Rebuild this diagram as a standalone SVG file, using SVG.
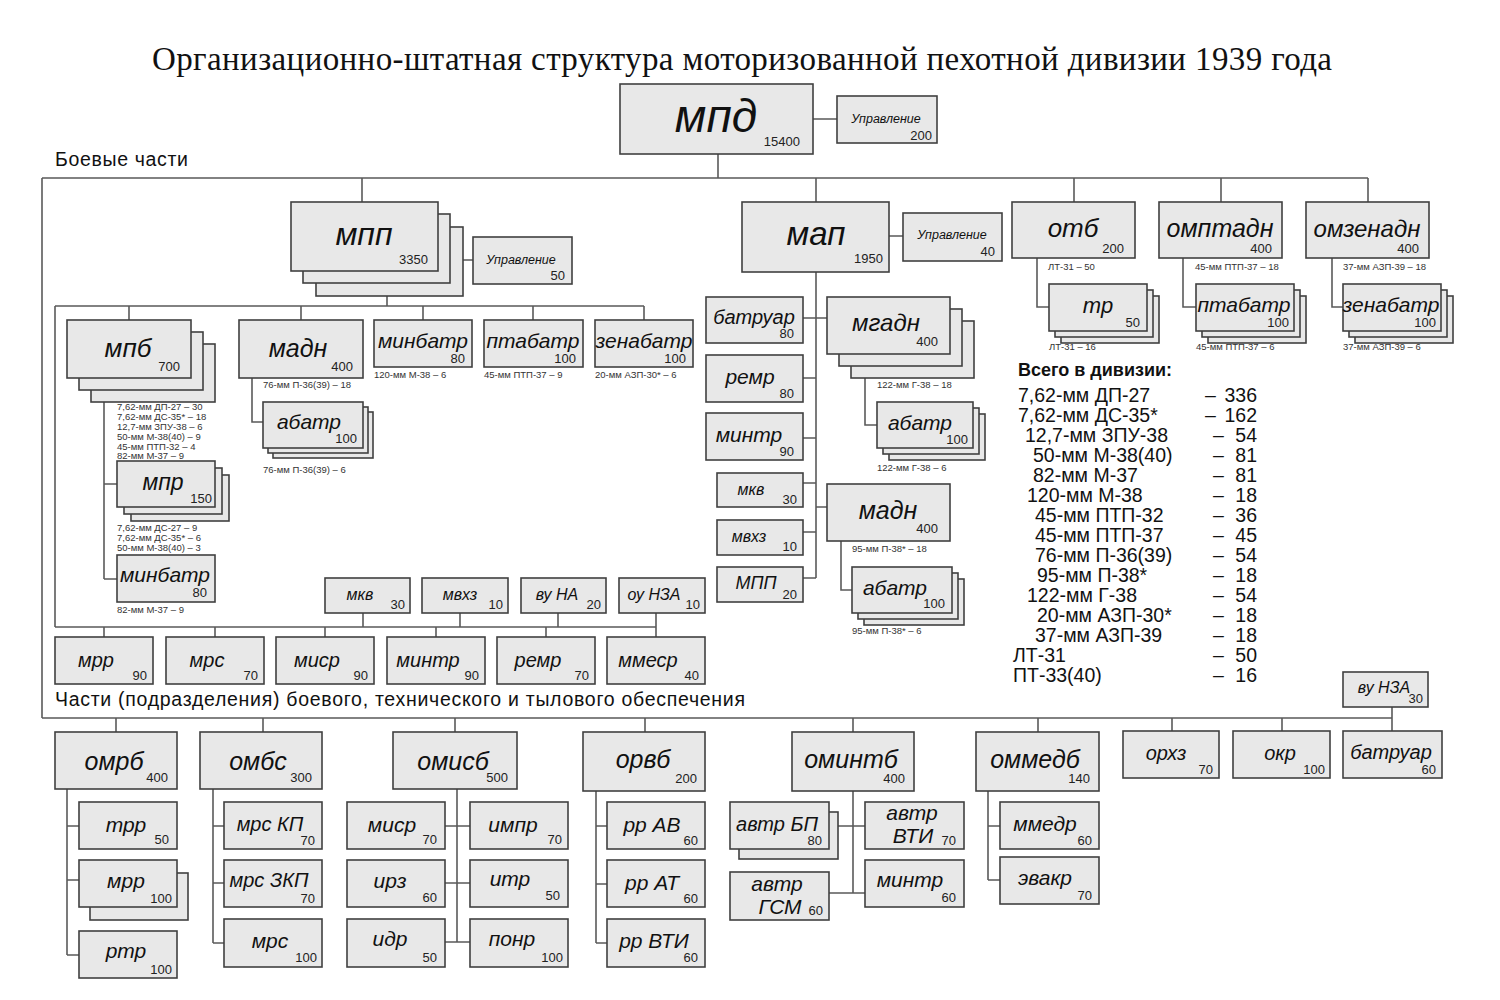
<svg xmlns="http://www.w3.org/2000/svg" width="1500" height="1000" viewBox="0 0 1500 1000">
<style>
.b{fill:#e8e8e8;stroke:#404040;stroke-width:1.6}
.c path{fill:none;stroke:#5a5a5a;stroke-width:1.6}
.l{font-family:"Liberation Sans",Arial,sans-serif;font-style:italic;fill:#111;text-anchor:middle}
.n{font-family:"Liberation Sans",Arial,sans-serif;font-size:13px;fill:#222;text-anchor:end}
.w{font-family:"Liberation Sans",Arial,sans-serif;font-size:9.5px;fill:#333}
.t{font-family:"Liberation Sans",Arial,sans-serif;font-size:19.5px;fill:#111}
.h{font-family:"Liberation Sans",Arial,sans-serif;font-size:19.5px;fill:#111}
</style>
<rect x="0" y="0" width="1500" height="1000" fill="#ffffff"/>
<text x="742" y="70" font-family="'Liberation Serif',serif" font-size="33" text-anchor="middle" textLength="1180" fill="#111">Организационно-штатная структура моторизованной пехотной дивизии 1939 года</text>
<text class="h" x="55" y="166" textLength="133">Боевые части</text>
<text class="h" x="55" y="706" textLength="690">Части (подразделения) боевого, технического и тылового обеспечения</text>

<g class="c" id="connectors">
<path d="M718,154V178M42,178H1368M42,178V718M42,718H1392M362,178V202M816,178V202M1074,178V202M1221,178V202M1368,178V202M813,119H837"/>
<path d="M463,260H473M387,296V306M55,306H644M55,306V627M55,627H656M129,306V320M301,306V320M423,306V320M533,306V320M644,306V320"/>
<path d="M104,402V579M104,484H117M104,579H117M252,378V422H263"/>
<path d="M363,613V627M460,613V627M558,613V627M656,613V637M104,627V637M215,627V637M325,627V637M436,627V637M546,627V637"/>
<path d="M816,272V578M889,236H903M803,318H827M803,378H816M803,438H816M803,483H816M816,507H827M803,532H816M803,578H816M865,377V425H877M841,541V590H852"/>
<path d="M1037,258V307H1049M1183,258V307H1196M1332,258V307H1343"/>
<path d="M116,718V732M263,718V732M455,718V732M645,718V732M853,718V732M1038,718V732M1172,718V731M1282,718V731M1392,707V731"/>
<path d="M67,789V955M67,826H79M67,880H79M67,955H79M213,789V943M213,826H224M213,883H224M213,943H224"/>
<path d="M457,789V942M445,826H470M445,883H470M445,942H470M596,791V943M596,826H607M596,884H607M596,943H607"/>
<path d="M853,791V893M829,826H865M829,893H865M988,791V880M988,826H1000M988,880H1000"/>
</g>

<g id="n-mpd"><rect class="b" x="620" y="84" width="193" height="70"/><text class="l" x="716" y="132" font-size="46">мпд</text><text class="n" x="800" y="146">15400</text></g>
<g id="n-upr-div"><rect class="b" x="837" y="96" width="100" height="47"/><text class="l" x="886" y="123" font-size="12.5">Управление</text><text class="n" x="932" y="140">200</text></g>

<g id="n-mpp"><rect class="b" x="316" y="227" width="147" height="69"/><rect class="b" x="303" y="214" width="147" height="69"/><rect class="b" x="291" y="202" width="147" height="69"/><text class="l" x="364" y="245" font-size="32">мпп</text><text class="n" x="428" y="264">3350</text></g>
<g id="n-upr-mpp"><rect class="b" x="473" y="237" width="99" height="47"/><text class="l" x="521" y="264" font-size="12.5">Управление</text><text class="n" x="565" y="280">50</text></g>

<g id="n-mpb"><rect class="b" x="91" y="344" width="124" height="58"/><rect class="b" x="79" y="332" width="124" height="58"/><rect class="b" x="67" y="320" width="124" height="58"/><text class="l" x="128" y="357" font-size="26">мпб</text><text class="n" x="180" y="371">700</text>
<text class="w" x="117" y="409.5">7,62-мм ДП-27 – 30</text><text class="w" x="117" y="419.5">7,62-мм ДС-35* – 18</text><text class="w" x="117" y="429.5">12,7-мм ЗПУ-38 – 6</text><text class="w" x="117" y="439.5">50-мм М-38(40) – 9</text><text class="w" x="117" y="449.5">45-мм ПТП-32 – 4</text><text class="w" x="117" y="459">82-мм М-37 – 9</text></g>
<g id="n-mpr"><rect class="b" x="131" y="475" width="98" height="46"/><rect class="b" x="124" y="468" width="98" height="46"/><rect class="b" x="117" y="461" width="98" height="46"/><text class="l" x="163" y="490" font-size="23">мпр</text><text class="n" x="212" y="503">150</text>
<text class="w" x="117" y="530.5">7,62-мм ДС-27 – 9</text><text class="w" x="117" y="540.5">7,62-мм ДС-35* – 6</text><text class="w" x="117" y="550.5">50-мм М-38(40) – 3</text></g>
<g id="n-minbatr-mpb"><rect class="b" x="117" y="555" width="98" height="47"/><text class="l" x="165" y="582" font-size="21">минбатр</text><text class="n" x="207" y="597">80</text><text class="w" x="117" y="613">82-мм М-37 – 9</text></g>

<g id="n-madn-mpp"><rect class="b" x="239" y="320" width="124" height="58"/><text class="l" x="298" y="357" font-size="25">мадн</text><text class="n" x="353" y="371">400</text><text class="w" x="263" y="388">76-мм П-36(39) – 18</text></g>
<g id="n-abatr-mpp"><rect class="b" x="273" y="412" width="100" height="46"/><rect class="b" x="268" y="407" width="100" height="46"/><rect class="b" x="263" y="402" width="100" height="46"/><text class="l" x="309" y="429" font-size="21">абатр</text><text class="n" x="357" y="443">100</text><text class="w" x="263" y="473">76-мм П-36(39) – 6</text></g>
<g id="n-minbatr-mpp"><rect class="b" x="374" y="320" width="98" height="47"/><text class="l" x="423" y="348" font-size="21">минбатр</text><text class="n" x="465" y="363">80</text><text class="w" x="374" y="378">120-мм М-38 – 6</text></g>
<g id="n-ptabatr-mpp"><rect class="b" x="484" y="320" width="99" height="47"/><text class="l" x="533" y="348" font-size="21">птабатр</text><text class="n" x="576" y="363">100</text><text class="w" x="484" y="378">45-мм ПТП-37 – 9</text></g>
<g id="n-zenabatr-mpp"><rect class="b" x="595" y="320" width="98" height="47"/><text class="l" x="644" y="348" font-size="21">зенабатр</text><text class="n" x="686" y="363">100</text><text class="w" x="595" y="378">20-мм АЗП-30* – 6</text></g>

<g id="n-mkv-1"><rect class="b" x="325" y="578" width="85" height="35"/><text class="l" x="360" y="600" font-size="16">мкв</text><text class="n" x="405" y="609">30</text></g>
<g id="n-mvhz-1"><rect class="b" x="422" y="578" width="86" height="35"/><text class="l" x="460" y="600" font-size="16">мвхз</text><text class="n" x="503" y="609">10</text></g>
<g id="n-vuna"><rect class="b" x="521" y="578" width="85" height="35"/><text class="l" x="557" y="600" font-size="16">ву НА</text><text class="n" x="601" y="609">20</text></g>
<g id="n-ounza"><rect class="b" x="619" y="578" width="86" height="35"/><text class="l" x="654" y="600" font-size="16">оу НЗА</text><text class="n" x="700" y="609">10</text></g>

<g id="n-mrr-1"><rect class="b" x="55" y="637" width="98" height="47"/><text class="l" x="96" y="667" font-size="20">мрр</text><text class="n" x="147" y="680">90</text></g>
<g id="n-mrs-1"><rect class="b" x="166" y="637" width="98" height="47"/><text class="l" x="207" y="667" font-size="20">мрс</text><text class="n" x="258" y="680">70</text></g>
<g id="n-misr-1"><rect class="b" x="276" y="637" width="98" height="47"/><text class="l" x="317" y="667" font-size="20">миср</text><text class="n" x="368" y="680">90</text></g>
<g id="n-mintr-1"><rect class="b" x="387" y="637" width="98" height="47"/><text class="l" x="428" y="667" font-size="20">минтр</text><text class="n" x="479" y="680">90</text></g>
<g id="n-remr-1"><rect class="b" x="497" y="637" width="98" height="47"/><text class="l" x="538" y="667" font-size="20">ремр</text><text class="n" x="589" y="680">70</text></g>
<g id="n-mmesr"><rect class="b" x="607" y="637" width="98" height="47"/><text class="l" x="648" y="667" font-size="20">ммеср</text><text class="n" x="699" y="680">40</text></g>

<g id="n-map"><rect class="b" x="742" y="202" width="147" height="70"/><text class="l" x="816" y="245" font-size="33">мап</text><text class="n" x="883" y="263">1950</text></g>
<g id="n-upr-map"><rect class="b" x="903" y="213" width="99" height="48"/><text class="l" x="952" y="239" font-size="12.5">Управление</text><text class="n" x="995" y="256">40</text></g>
<g id="n-batruar-map"><rect class="b" x="706" y="297" width="97" height="46"/><text class="l" x="754" y="324" font-size="20">батруар</text><text class="n" x="794" y="338">80</text></g>
<g id="n-remr-map"><rect class="b" x="706" y="355" width="97" height="47"/><text class="l" x="750" y="384" font-size="21">ремр</text><text class="n" x="794" y="398">80</text></g>
<g id="n-mintr-map"><rect class="b" x="706" y="413" width="97" height="47"/><text class="l" x="749" y="442" font-size="21">минтр</text><text class="n" x="794" y="456">90</text></g>
<g id="n-mkv-map"><rect class="b" x="717" y="473" width="86" height="34"/><text class="l" x="751" y="495" font-size="16">мкв</text><text class="n" x="797" y="504">30</text></g>
<g id="n-mvhz-map"><rect class="b" x="717" y="520" width="86" height="35"/><text class="l" x="749" y="542" font-size="16">мвхз</text><text class="n" x="797" y="551">10</text></g>
<g id="n-mpp-map"><rect class="b" x="717" y="567" width="86" height="35"/><text class="l" x="756" y="589" font-size="18">МПП</text><text class="n" x="797" y="599">20</text></g>
<g id="n-mgadn"><rect class="b" x="851" y="321" width="123" height="57"/><rect class="b" x="839" y="309" width="123" height="57"/><rect class="b" x="827" y="297" width="123" height="57"/><text class="l" x="886" y="331" font-size="24">мгадн</text><text class="n" x="938" y="346">400</text><text class="w" x="877" y="388">122-мм Г-38 – 18</text></g>
<g id="n-abatr-mgadn"><rect class="b" x="889" y="414" width="96" height="46"/><rect class="b" x="883" y="408" width="96" height="46"/><rect class="b" x="877" y="402" width="96" height="46"/><text class="l" x="920" y="430" font-size="21">абатр</text><text class="n" x="968" y="444">100</text><text class="w" x="877" y="471">122-мм Г-38 – 6</text></g>
<g id="n-madn-map"><rect class="b" x="827" y="484" width="123" height="57"/><text class="l" x="888" y="519" font-size="25">мадн</text><text class="n" x="938" y="533">400</text><text class="w" x="852" y="552">95-мм П-38* – 18</text></g>
<g id="n-abatr-madn"><rect class="b" x="864" y="579" width="100" height="46"/><rect class="b" x="858" y="573" width="100" height="46"/><rect class="b" x="852" y="567" width="100" height="46"/><text class="l" x="895" y="595" font-size="21">абатр</text><text class="n" x="945" y="608">100</text><text class="w" x="852" y="634">95-мм П-38* – 6</text></g>

<g id="n-otb"><rect class="b" x="1012" y="202" width="123" height="56"/><text class="l" x="1073" y="237" font-size="26">отб</text><text class="n" x="1124" y="253">200</text><text class="w" x="1048" y="270">ЛТ-31 – 50</text></g>
<g id="n-tr"><rect class="b" x="1061" y="296" width="98" height="47"/><rect class="b" x="1055" y="290" width="98" height="47"/><rect class="b" x="1049" y="284" width="98" height="47"/><text class="l" x="1098" y="313" font-size="22">тр</text><text class="n" x="1140" y="327">50</text><text class="w" x="1049" y="350">ЛТ-31 – 16</text></g>
<g id="n-omptadn"><rect class="b" x="1159" y="202" width="123" height="56"/><text class="l" x="1220" y="237" font-size="25">омптадн</text><text class="n" x="1272" y="253">400</text><text class="w" x="1195" y="270">45-мм ПТП-37 – 18</text></g>
<g id="n-ptabatr-o"><rect class="b" x="1208" y="296" width="98" height="47"/><rect class="b" x="1202" y="290" width="98" height="47"/><rect class="b" x="1196" y="284" width="98" height="47"/><text class="l" x="1244" y="312" font-size="21">птабатр</text><text class="n" x="1289" y="327">100</text><text class="w" x="1196" y="350">45-мм ПТП-37 – 6</text></g>
<g id="n-omzenadn"><rect class="b" x="1306" y="202" width="123" height="56"/><text class="l" x="1367" y="237" font-size="24">омзенадн</text><text class="n" x="1419" y="253">400</text><text class="w" x="1343" y="270">37-мм АЗП-39 – 18</text></g>
<g id="n-zenabatr-o"><rect class="b" x="1355" y="296" width="98" height="47"/><rect class="b" x="1349" y="290" width="98" height="47"/><rect class="b" x="1343" y="284" width="98" height="47"/><text class="l" x="1391" y="312" font-size="21">зенабатр</text><text class="n" x="1436" y="327">100</text><text class="w" x="1343" y="350">37-мм АЗП-39 – 6</text></g>

<g id="totals">
<text x="1018" y="376" font-family="'Liberation Sans',Arial,sans-serif" font-size="18" font-weight="bold" fill="#111">Всего в дивизии:</text>
<text class="t" x="1018" y="402">7,62-мм ДП-27</text><text class="t" x="1205" y="402">–</text><text class="t" x="1257" y="402" text-anchor="end">336</text>
<text class="t" x="1018" y="422">7,62-мм ДС-35*</text><text class="t" x="1205" y="422">–</text><text class="t" x="1257" y="422" text-anchor="end">162</text>
<text class="t" x="1025" y="442">12,7-мм ЗПУ-38</text><text class="t" x="1213" y="442">–</text><text class="t" x="1257" y="442" text-anchor="end">54</text>
<text class="t" x="1033" y="462">50-мм М-38(40)</text><text class="t" x="1213" y="462">–</text><text class="t" x="1257" y="462" text-anchor="end">81</text>
<text class="t" x="1033" y="482">82-мм М-37</text><text class="t" x="1213" y="482">–</text><text class="t" x="1257" y="482" text-anchor="end">81</text>
<text class="t" x="1027" y="502">120-мм М-38</text><text class="t" x="1213" y="502">–</text><text class="t" x="1257" y="502" text-anchor="end">18</text>
<text class="t" x="1035" y="522">45-мм ПТП-32</text><text class="t" x="1213" y="522">–</text><text class="t" x="1257" y="522" text-anchor="end">36</text>
<text class="t" x="1035" y="542">45-мм ПТП-37</text><text class="t" x="1213" y="542">–</text><text class="t" x="1257" y="542" text-anchor="end">45</text>
<text class="t" x="1035" y="562">76-мм П-36(39)</text><text class="t" x="1213" y="562">–</text><text class="t" x="1257" y="562" text-anchor="end">54</text>
<text class="t" x="1037" y="582">95-мм П-38*</text><text class="t" x="1213" y="582">–</text><text class="t" x="1257" y="582" text-anchor="end">18</text>
<text class="t" x="1027" y="602">122-мм Г-38</text><text class="t" x="1213" y="602">–</text><text class="t" x="1257" y="602" text-anchor="end">54</text>
<text class="t" x="1037" y="622">20-мм АЗП-30*</text><text class="t" x="1213" y="622">–</text><text class="t" x="1257" y="622" text-anchor="end">18</text>
<text class="t" x="1035" y="642">37-мм АЗП-39</text><text class="t" x="1213" y="642">–</text><text class="t" x="1257" y="642" text-anchor="end">18</text>
<text class="t" x="1013" y="662">ЛТ-31</text><text class="t" x="1213" y="662">–</text><text class="t" x="1257" y="662" text-anchor="end">50</text>
<text class="t" x="1013" y="682">ПТ-33(40)</text><text class="t" x="1213" y="682">–</text><text class="t" x="1257" y="682" text-anchor="end">16</text>
</g>

<g id="n-omrb"><rect class="b" x="55" y="732" width="122" height="57"/><text class="l" x="114" y="770" font-size="25">омрб</text><text class="n" x="168" y="782">400</text></g>
<g id="n-trr"><rect class="b" x="79" y="802" width="98" height="47"/><text class="l" x="126" y="832" font-size="21">трр</text><text class="n" x="169" y="844">50</text></g>
<g id="n-mrr-2"><rect class="b" x="90" y="873" width="98" height="47"/><rect class="b" x="79" y="860" width="98" height="47"/><text class="l" x="126" y="888" font-size="21">мрр</text><text class="n" x="172" y="903">100</text></g>
<g id="n-rtr"><rect class="b" x="79" y="931" width="98" height="47"/><text class="l" x="126" y="958" font-size="21">ртр</text><text class="n" x="172" y="974">100</text></g>

<g id="n-ombs"><rect class="b" x="200" y="732" width="122" height="57"/><text class="l" x="258" y="770" font-size="25">омбс</text><text class="n" x="312" y="782">300</text></g>
<g id="n-mrs-kp"><rect class="b" x="224" y="802" width="98" height="47"/><text class="l" x="270" y="831" font-size="20">мрс КП</text><text class="n" x="315" y="845">70</text></g>
<g id="n-mrs-zkp"><rect class="b" x="224" y="860" width="98" height="47"/><text class="l" x="269" y="887" font-size="20">мрс ЗКП</text><text class="n" x="315" y="903">70</text></g>
<g id="n-mrs-2"><rect class="b" x="224" y="919" width="98" height="48"/><text class="l" x="270" y="948" font-size="21">мрс</text><text class="n" x="317" y="962">100</text></g>

<g id="n-omisb"><rect class="b" x="393" y="732" width="124" height="57"/><text class="l" x="453" y="770" font-size="25">омисб</text><text class="n" x="508" y="782">500</text></g>
<g id="n-misr-2"><rect class="b" x="347" y="802" width="98" height="47"/><text class="l" x="392" y="832" font-size="21">миср</text><text class="n" x="437" y="844">70</text></g>
<g id="n-irz"><rect class="b" x="347" y="860" width="98" height="47"/><text class="l" x="390" y="888" font-size="21">ирз</text><text class="n" x="437" y="902">60</text></g>
<g id="n-idr"><rect class="b" x="347" y="919" width="98" height="48"/><text class="l" x="390" y="946" font-size="21">идр</text><text class="n" x="437" y="962">50</text></g>
<g id="n-impr"><rect class="b" x="470" y="802" width="98" height="47"/><text class="l" x="513" y="832" font-size="21">импр</text><text class="n" x="562" y="844">70</text></g>
<g id="n-itr"><rect class="b" x="470" y="860" width="98" height="47"/><text class="l" x="510" y="886" font-size="21">итр</text><text class="n" x="560" y="900">50</text></g>
<g id="n-ponr"><rect class="b" x="470" y="919" width="98" height="48"/><text class="l" x="512" y="946" font-size="21">понр</text><text class="n" x="563" y="962">100</text></g>

<g id="n-orvb"><rect class="b" x="583" y="732" width="122" height="59"/><text class="l" x="643" y="768" font-size="25">орвб</text><text class="n" x="697" y="783">200</text></g>
<g id="n-rr-av"><rect class="b" x="607" y="802" width="98" height="47"/><text class="l" x="652" y="832" font-size="21">рр АВ</text><text class="n" x="698" y="845">60</text></g>
<g id="n-rr-at"><rect class="b" x="607" y="860" width="98" height="47"/><text class="l" x="652" y="890" font-size="21">рр АТ</text><text class="n" x="698" y="903">60</text></g>
<g id="n-rr-vti"><rect class="b" x="607" y="919" width="98" height="48"/><text class="l" x="654" y="948" font-size="21">рр ВТИ</text><text class="n" x="698" y="962">60</text></g>

<g id="n-omintb"><rect class="b" x="792" y="732" width="122" height="59"/><text class="l" x="851" y="768" font-size="25">оминтб</text><text class="n" x="905" y="783">400</text></g>
<g id="n-avtr-bp"><rect class="b" x="739" y="812" width="99" height="47"/><rect class="b" x="730" y="802" width="99" height="47"/><text class="l" x="777" y="831" font-size="20">автр БП</text><text class="n" x="822" y="845">80</text></g>
<g id="n-avtr-vti"><rect class="b" x="865" y="802" width="99" height="47"/><text class="l" x="912" y="820" font-size="21">автр</text><text class="l" x="913" y="843" font-size="21">ВТИ</text><text class="n" x="956" y="845">70</text></g>
<g id="n-avtr-gsm"><rect class="b" x="730" y="872" width="99" height="48"/><text class="l" x="777" y="891" font-size="21">автр</text><text class="l" x="780" y="914" font-size="21">ГСМ</text><text class="n" x="823" y="915">60</text></g>
<g id="n-mintr-2"><rect class="b" x="865" y="860" width="99" height="47"/><text class="l" x="910" y="887" font-size="21">минтр</text><text class="n" x="956" y="902">60</text></g>

<g id="n-ommedb"><rect class="b" x="976" y="732" width="123" height="59"/><text class="l" x="1035" y="768" font-size="25">оммедб</text><text class="n" x="1090" y="783">140</text></g>
<g id="n-mmedr"><rect class="b" x="1000" y="802" width="99" height="47"/><text class="l" x="1045" y="831" font-size="21">ммедр</text><text class="n" x="1092" y="845">60</text></g>
<g id="n-evakr"><rect class="b" x="1000" y="857" width="99" height="47"/><text class="l" x="1045" y="885" font-size="21">эвакр</text><text class="n" x="1092" y="900">70</text></g>

<g id="n-orhz"><rect class="b" x="1123" y="731" width="96" height="47"/><text class="l" x="1166" y="760" font-size="20">орхз</text><text class="n" x="1213" y="774">70</text></g>
<g id="n-okr"><rect class="b" x="1233" y="731" width="97" height="47"/><text class="l" x="1280" y="760" font-size="20">окр</text><text class="n" x="1325" y="774">100</text></g>
<g id="n-batruar-2"><rect class="b" x="1343" y="731" width="99" height="47"/><text class="l" x="1391" y="759" font-size="20">батруар</text><text class="n" x="1436" y="774">60</text></g>
<g id="n-vunza"><rect class="b" x="1343" y="672" width="85" height="35"/><text class="l" x="1384" y="693" font-size="16">ву НЗА</text><text class="n" x="1423" y="703">30</text></g>
</svg>
